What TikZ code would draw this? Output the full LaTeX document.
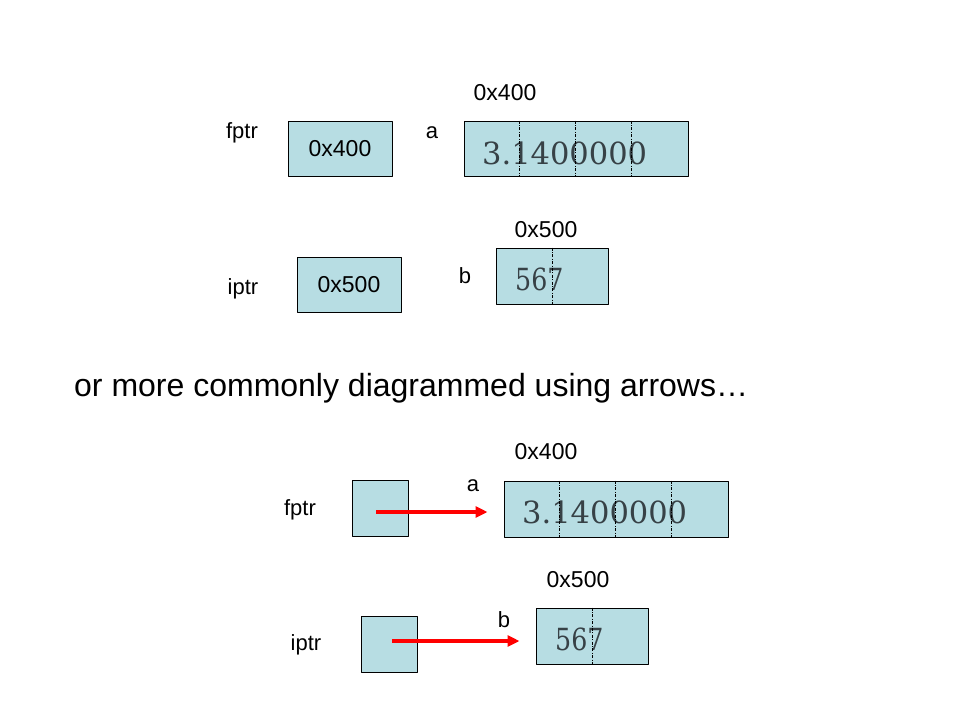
\documentclass[tikz,border=0pt]{standalone}
\usepackage{fontspec}
\setmainfont{Liberation Sans}
\newfontfamily\valfont{DejaVu Serif}
\newfontfamily\valnarrow[FakeStretch=0.83]{DejaVu Serif}
\usetikzlibrary{arrows.meta}
\definecolor{cellblue}{RGB}{183,221,227}
\definecolor{valgray}{RGB}{55,65,70}
\begin{document}
\begin{tikzpicture}[x=1pt, y=-1pt, font=\fontsize{22}{26}\selectfont, line join=round, >={Triangle[length=12pt,width=11pt]},
	cell/.style={draw=black, line width=1pt, fill=cellblue, inner sep=0pt, minimum height=55pt, font=\fontsize{23}{27}\selectfont},
	val/.style={font=\valfont\fontsize{30.5}{34}\selectfont, text=valgray, anchor=west, inner sep=0pt},
	divline/.style={line width=0.8pt, dash pattern=on 3pt off 1.5pt on 0.8pt off 1.5pt},
	ptr/.style={->, draw=red, line width=4pt}]
				\fill[white] (0,0) rectangle (960,720);
				% memory cells, addresses first
				\node[cell, minimum width=104pt] (fptrA) at (340,148.5) {0x400};
				\node[cell, minimum width=224pt] (aA) at (576,148.5) {};
				\node[cell, minimum width=104pt] (iptrA) at (349,284.5) {0x500};
				\node[cell, minimum width=112pt, minimum height=56pt] (bA) at (552,276) {};
				\node[cell, minimum width=56pt, minimum height=56pt] (fptrB) at (380,508) {};
				\node[cell, minimum width=224pt, minimum height=56pt] (aB) at (616,509) {};
				\node[cell, minimum width=56pt, minimum height=56pt] (iptrB) at (389,644) {};
				\node[cell, minimum width=112pt, minimum height=56pt] (bB) at (592,636) {};
				% stored values
				\node[val] (piA) at (482,153) {3.1400000};
				\node[val, font=\valnarrow\fontsize{30.5}{34}\selectfont] (bvA) at (515,279) {567};
				\node[val] (piB) at (522,512) {3.1400000};
				\node[val, font=\valnarrow\fontsize{30.5}{34}\selectfont] (bvB) at (555,639) {567};
				\foreach \c in {aA,aB} \foreach \k in {1,2,3} \draw[divline] ([xshift=\k*56pt]\c.north west)--([xshift=\k*56pt]\c.south west);
				\foreach \c in {bA,bB} \draw[divline] (\c.north)--(\c.south);
				% names
				\foreach \n/\t/\x/\y in {fpA/fptr/242/133, anA/a/432/133, ipA/iptr/243/289, bnA/b/465/276,
					anB/a/473/486, fpB/fptr/300/510, bnB/b/504/620, ipB/iptr/306/645}
					\node (\n) at (\x,\y) {\t};
				% addresses
				\foreach \n/\t/\x/\y in {adrA/0x400/505/93, adrbA/0x500/546/230, adrB/0x400/546/452, adrbB/0x500/578/580}
					\node[font=\fontsize{23}{27}\selectfont] (\n) at (\x,\y) {\t};
				\node[anchor=base west, inner sep=0pt, font=\fontsize{32}{38}\selectfont] (note) at (74,396) {or more commonly diagrammed using arrows…};
				% pointers
				\path ([xshift=-4pt,yshift=-4pt]fptrB.center) coordinate (fpTail)
					([xshift=3pt,yshift=3pt]iptrB.center) coordinate (ipTail);
				\draw[ptr, shorten >=16pt] (fpTail)--(fpTail -| aB.west);
				\draw[ptr, shorten >=16pt] (ipTail)--(ipTail -| bB.west);
			\end{tikzpicture}
\end{document}
